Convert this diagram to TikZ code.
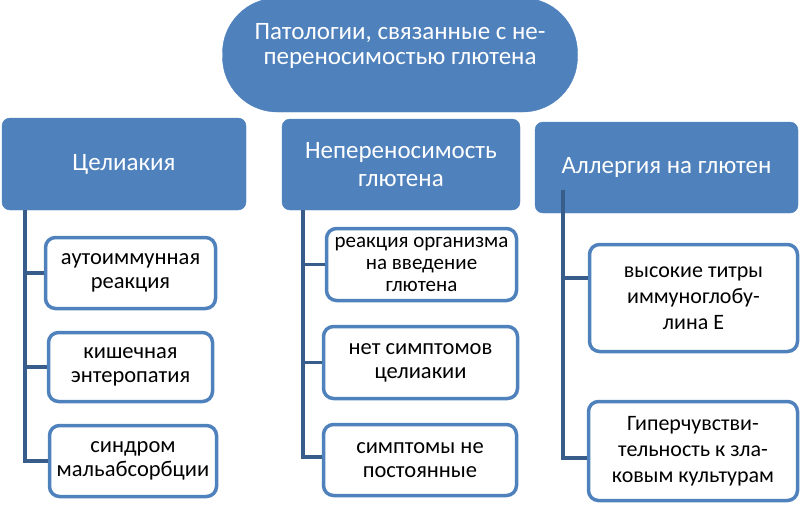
\documentclass[tikz,border=0pt]{standalone}
\usepackage{fontspec}
\setmainfont{Carlito}

\definecolor{boxblue}{HTML}{4F81BD}
\definecolor{linkblue}{HTML}{385D8A}

\tikzset{
  lvltop/.style={draw=boxblue,fill=boxblue,rounded corners=55pt,text=white,align=center,
    font=\fontsize{25}{25.5}\selectfont,inner sep=0pt},
  lvltwo/.style={draw=boxblue,fill=boxblue,rounded corners=8pt,text=white,align=center,
    font=\fontsize{25}{28}\selectfont,inner sep=0pt},
  lvlthree/.style={draw=boxblue,line width=3.5pt,fill=white,rounded corners=10pt,text=black,
    align=center,font=\fontsize{22.5}{24}\selectfont,inner sep=0pt},
  link/.style={draw=linkblue,line width=3.5pt}
}

\begin{document}
\begin{tikzpicture}[x=1pt,y=-1pt]
\useasboundingbox (0,0) rectangle (801,504);

\node at (400,55) [lvltop,minimum width=355pt,minimum height=114pt,text depth=22pt] (top) {Патологии, связанные с не-\\переносимостью глютена};

\node at (124,164) [lvltwo,minimum width=244pt,minimum height=92pt] (cel) {Целиакия};
\node at (401,164.5) [lvltwo,minimum width=238pt,minimum height=91pt] (nep) {Непереносимость\\глютена};
\node at (666.5,167.5) [lvltwo,minimum width=263pt,minimum height=91pt] (all) {Аллергия на глютен};

\coordinate (celfoot) at (25,210);
\coordinate (nepfoot) at (303,210);
\coordinate (allfoot) at (563,190);

\node at (130.5,273) [lvlthree,minimum width=170pt,minimum height=71pt] (cela) {аутоиммунная\\реакция};
\node at (130.5,367) [lvlthree,minimum width=164pt,minimum height=69pt] (celb) {кишечная\\энтеропатия};
\node at (133,461) [lvlthree,minimum width=167pt,minimum height=71pt] (celc) {синдром\\мальабсорбции};

\node at (421.5,264.5) [lvlthree,minimum width=190pt,minimum height=72pt,font=\fontsize{21}{22}\selectfont] (nepa) {реакция организма\\на введение\\глютена};
\node at (420.5,362.5) [lvlthree,minimum width=194pt,minimum height=72pt] (nepb) {нет симптомов\\целиакии};
\node at (420,460) [lvlthree,minimum width=193pt,minimum height=71pt] (nepc) {симптомы не\\постоянные};

\node at (693.5,298) [lvlthree,minimum width=208pt,minimum height=107pt,font=\fontsize{22}{26}\selectfont] (alla) {высокие титры\\иммуноглобу-\\лина Е};
\node at (693,451) [lvlthree,minimum width=209pt,minimum height=99pt,font=\fontsize{22}{26}\selectfont] (allb) {Гиперчувстви-\\тельность к зла-\\ковым культурам};

\draw[link] (celfoot) |- (cela.west);
\draw[link] (celfoot) |- (celb.west);
\draw[link] (celfoot) |- (celc.west);

\draw[link] (nepfoot) |- (nepa.west);
\draw[link] (nepfoot) |- (nepb.west);
\draw[link] (nepfoot) |- ([yshift=3pt]nepc.west);

\draw[link] (allfoot) |- ([yshift=20pt]alla.west);
\draw[link] (allfoot) |- ([yshift=-7pt]allb.west);
\end{tikzpicture}
\end{document}
